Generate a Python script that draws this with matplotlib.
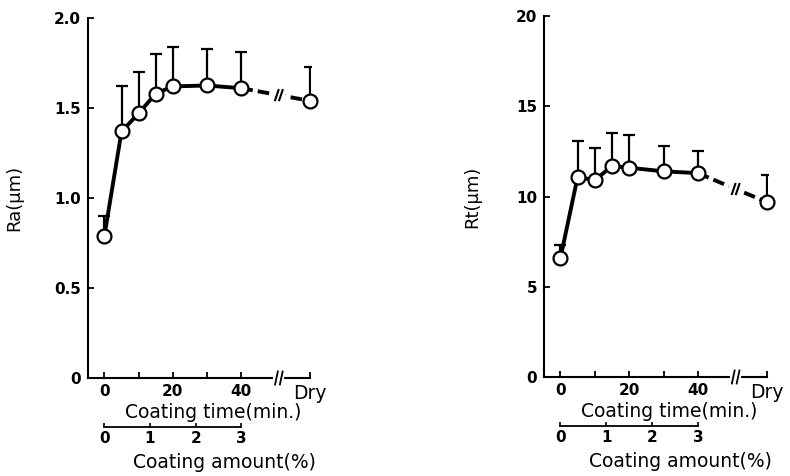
import matplotlib
matplotlib.use("Agg")
import matplotlib.pyplot as plt
import matplotlib.transforms as mtransforms
import numpy as np

# ---- data ----
time_labels = ["0", "5", "10", "15", "20", "30", "40", "Dry"]
time_values = [0, 5, 10, 15, 20, 30, 40]
dry_pos = 60          # plotting position of the "Dry" category
break_pos = 51        # axis break position

ra_mean = [0.79, 1.37, 1.47, 1.58, 1.62, 1.625, 1.61, 1.54]
ra_upper = [0.90, 1.62, 1.70, 1.80, 1.84, 1.83, 1.81, 1.73]

rt_mean = [6.6, 11.1, 10.9, 11.7, 11.6, 11.4, 11.3, 9.7]
rt_upper = [7.3, 13.1, 12.7, 13.5, 13.4, 12.8, 12.5, 11.2]

x_ticks_major = [0, 20, 40]
x_ticks_minor = [10, 30]
amount_ticks = [0, 1, 2, 3]
amount_max_time = 40   # 3 % corresponds to 40 min

panels = [
    dict(mean=ra_mean, upper=ra_upper, ylim=(0, 2.0),
         yticks=[0, 0.5, 1.0, 1.5, 2.0], yticklabels=["0", "0.5", "1.0", "1.5", "2.0"],
         ylabel="Ra(\u03bcm)", rect=[0.1114, 0.2059, 0.2823, 0.7563], ylabx=-0.29),
    dict(mean=rt_mean, upper=rt_upper, ylim=(0, 20),
         yticks=[0, 5, 10, 15, 20], yticklabels=["0", "5", "10", "15", "20"],
         ylabel="Rt(\u03bcm)", rect=[0.6886, 0.2080, 0.2835, 0.7580], ylabx=-0.28),
]

plt.rcParams['font.family'] = ['DejaVu Sans']
fig = plt.figure(figsize=(7.9, 4.76), dpi=100)

for p in panels:
    ax = fig.add_axes(p["rect"])
    x = time_values + [dry_pos]
    y = np.array(p["mean"])
    up = np.array(p["upper"])

    # error bars (upper only)
    ax.errorbar(x, y, yerr=[np.zeros_like(y), up - y], fmt='none', ecolor='black',
                elinewidth=1.6, capsize=4.5, capthick=1.6, zorder=3)
    # solid line through timed points
    ax.plot(time_values, y[:-1], color='black', lw=2.8, zorder=4)
    # dashed segment to Dry
    ax.plot([time_values[-1], dry_pos], [y[-2], y[-1]], color='black', lw=2.8,
            dashes=(3.0, 1.3), zorder=4)
    # break mark on the line
    yb = np.interp(break_pos, [time_values[-1], dry_pos], [y[-2], y[-1]])
    dy = (p["ylim"][1] - p["ylim"][0]) * 0.014
    ax.plot([break_pos - 1.3, break_pos + 1.3], [yb + dy * 0.3, yb - dy * 0.3],
            color='white', lw=4, zorder=5)
    for off in (-0.6, 0.6):
        ax.plot([break_pos + off - 0.5, break_pos + off + 0.5], [yb - dy, yb + dy],
                color='black', lw=1.5, zorder=6)
    # markers
    ax.plot(x, y, 'o', ms=10, mfc='white', mec='black', mew=1.6, zorder=7, clip_on=False)

    ax.set_xlim(-4.8, dry_pos + 0.4)
    ax.set_ylim(*p["ylim"])
    for s in ("top", "right"):
        ax.spines[s].set_visible(False)
    ax.spines["left"].set_linewidth(1.5)
    ax.spines["bottom"].set_linewidth(1.5)
    ax.spines["bottom"].set_bounds(-4.8, dry_pos)

    ax.set_yticks(p["yticks"])
    ax.set_yticklabels(p["yticklabels"], fontweight='bold', fontsize=11)
    ax.set_xticks(x_ticks_major + [dry_pos])
    ax.set_xticklabels([str(v) for v in x_ticks_major] + ["Dry"], fontweight='bold', fontsize=11)
    ax.set_xticks(x_ticks_minor, minor=True)
    ax.tick_params(axis='both', which='both', direction='in', length=4, width=1.3)
    ax.tick_params(axis='x', which='major', pad=4)
    ax.tick_params(axis='y', pad=5)
    lab = ax.get_xticklabels()[-1]
    lab.set_fontweight('normal')
    lab.set_fontsize(13.5)

    # axis break on x axis
    trans = mtransforms.blended_transform_factory(ax.transData, ax.transAxes)
    ax.plot([break_pos - 1.0, break_pos + 1.0], [0, 0], color='white', lw=3,
            transform=trans, clip_on=False, zorder=7)
    for off in (-0.7, 0.7):
        ax.plot([break_pos + off - 0.4, break_pos + off + 0.4], [-0.018, 0.018],
                color='black', lw=1.3, transform=trans, clip_on=False, zorder=8)

    ax.text(0.56, -0.095, "Coating time(min.)", transform=ax.transAxes,
            ha='center', va='center', fontsize=13.5)

    # secondary axis: coating amount
    sec = ax.secondary_xaxis(-0.136, functions=(lambda t: t * 3 / amount_max_time,
                                                 lambda a: a * amount_max_time / 3))
    sec.set_xticks(amount_ticks)
    sec.set_xticklabels([str(v) for v in amount_ticks], fontweight='bold', fontsize=11)
    sec.spines["bottom"].set_bounds(0, 3)
    sec.spines["bottom"].set_linewidth(1.3)
    sec.tick_params(direction='in', length=3, width=1.2, pad=3)

    ax.text(0.61, -0.235, "Coating amount(%)", transform=ax.transAxes,
            ha='center', va='center', fontsize=13.5)

    ax.set_ylabel(p["ylabel"], fontsize=13)
    ax.yaxis.set_label_coords(p["ylabx"], 0.5)

fig.savefig("out.png", dpi=100, facecolor='white')
